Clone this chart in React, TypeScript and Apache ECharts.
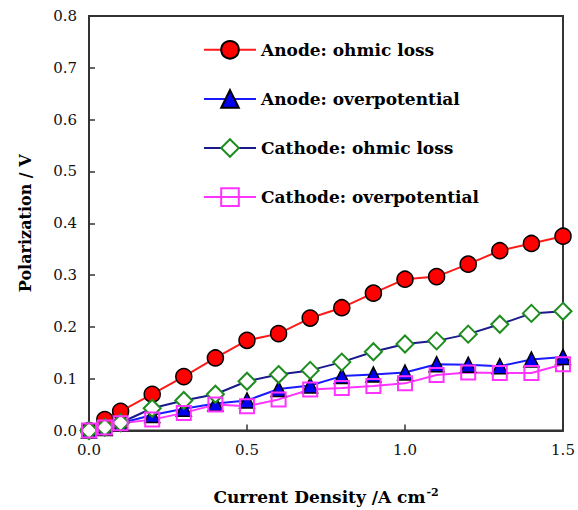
import React, { useEffect, useRef } from "react";
import * as echarts from "echarts";

const currentDensity = [0, 0.05, 0.1, 0.2, 0.3, 0.4, 0.5, 0.6, 0.7, 0.8, 0.9, 1.0, 1.1, 1.2, 1.3, 1.4, 1.5];
const anodeOhmic = [0, 0.021, 0.037, 0.07, 0.104, 0.14, 0.174, 0.187, 0.217, 0.237, 0.265, 0.292, 0.297, 0.321, 0.347, 0.361, 0.375];
const anodeOver = [0, 0.005, 0.014, 0.03, 0.042, 0.052, 0.058, 0.08, 0.087, 0.105, 0.108, 0.112, 0.128, 0.127, 0.124, 0.137, 0.142];
const cathodeOhmic = [0, 0.006, 0.015, 0.043, 0.058, 0.07, 0.095, 0.108, 0.116, 0.132, 0.152, 0.167, 0.173, 0.186, 0.205, 0.226, 0.23];
const cathodeOver = [0, 0.006, 0.014, 0.021, 0.034, 0.05, 0.047, 0.06, 0.079, 0.082, 0.086, 0.091, 0.107, 0.112, 0.111, 0.111, 0.128];
const seriesNames = ["Anode: ohmic loss", "Anode: overpotential", "Cathode: ohmic loss", "Cathode: overpotential"];

const FONT = "DejaVu Serif";

const pair = (ys: number[]) => currentDensity.map((x, i) => [x, ys[i]]);

export default function App() {
  const ref = useRef<HTMLDivElement>(null);
  useEffect(() => {
    if (!ref.current) return;
    const chart = echarts.init(ref.current, null, { renderer: "svg" });
    chart.setOption({
      animation: false,
      backgroundColor: "#fff",
      textStyle: { fontFamily: FONT },
      grid: { left: 89, right: 15, top: 16, bottom: 79, show: true, borderColor: "#333", borderWidth: 2 },
      legend: {
        orient: "vertical",
        left: 198,
        top: 35,
        itemWidth: 52,
        itemHeight: 22,
        itemGap: 29.5,
        textStyle: { fontFamily: FONT, fontWeight: "bold", fontSize: 17, color: "#000" },
        data: seriesNames,
      },
      xAxis: {
        type: "value",
        min: 0,
        max: 1.5,
        interval: 0.5,
        name: "{b|Current Density /A cm}{s|-2}",
        nameLocation: "middle",
        nameGap: 56,
        nameTextStyle: {
          fontFamily: FONT,
          rich: {
            b: { fontFamily: FONT, fontWeight: "bold", fontSize: 17, color: "#000" },
            s: { fontFamily: FONT, fontWeight: "bold", fontSize: 11, color: "#000", verticalAlign: "top", padding: [0, 0, 9, 1] },
          },
        },
        axisLine: { lineStyle: { color: "#333", width: 2 } },
        axisTick: { inside: true, length: 6, lineStyle: { color: "#333", width: 1.5 } },
        axisLabel: { fontFamily: FONT, fontSize: 15, color: "#111", margin: 12, formatter: (v: number) => v.toFixed(1) },
        splitLine: { show: false },
      },
      yAxis: {
        type: "value",
        min: 0,
        max: 0.8,
        interval: 0.1,
        name: "Polarization / V",
        nameLocation: "middle",
        nameGap: 56,
        nameTextStyle: { fontFamily: FONT, fontWeight: "bold", fontSize: 16, color: "#000" },
        axisLine: { lineStyle: { color: "#333", width: 2 } },
        axisTick: { inside: true, length: 6, lineStyle: { color: "#333", width: 1.5 } },
        axisLabel: { fontFamily: FONT, fontSize: 15, color: "#111", margin: 12, formatter: (v: number) => v.toFixed(1) },
        splitLine: { show: false },
      },
      series: [
        {
          name: seriesNames[0],
          type: "line",
          data: pair(anodeOhmic),
          symbol: "circle",
          symbolSize: 16,
          lineStyle: { color: "#ff1a1a", width: 2 },
          itemStyle: { color: "#ff0000", borderColor: "#000", borderWidth: 1.5 },
          color: "#ff1a1a",
        },
        {
          name: seriesNames[1],
          type: "line",
          data: pair(anodeOver),
          symbol: "triangle",
          symbolSize: 15,
          lineStyle: { color: "#1a1aff", width: 2 },
          itemStyle: { color: "#0000ee", borderColor: "#000", borderWidth: 1.5 },
          color: "#1a1aff",
        },
        {
          name: seriesNames[2],
          type: "line",
          data: pair(cathodeOhmic),
          symbol: "diamond",
          symbolSize: 17,
          lineStyle: { color: "#1a1a8c", width: 2 },
          itemStyle: { color: "#ffffff", borderColor: "#1e8c1e", borderWidth: 2 },
          color: "#1a1a8c",
        },
        {
          name: seriesNames[3],
          type: "line",
          data: pair(cathodeOver),
          symbol: "rect",
          symbolSize: 14,
          lineStyle: { color: "#ff33ff", width: 2 },
          itemStyle: { color: "transparent", borderColor: "#ff33ff", borderWidth: 2 },
          color: "#ff33ff",
        },
      ],
    });
    return () => chart.dispose();
  }, []);
  return <div ref={ref} style={{ position: "fixed", left: 0, top: 0, width: 578, height: 510 }} />;
}
